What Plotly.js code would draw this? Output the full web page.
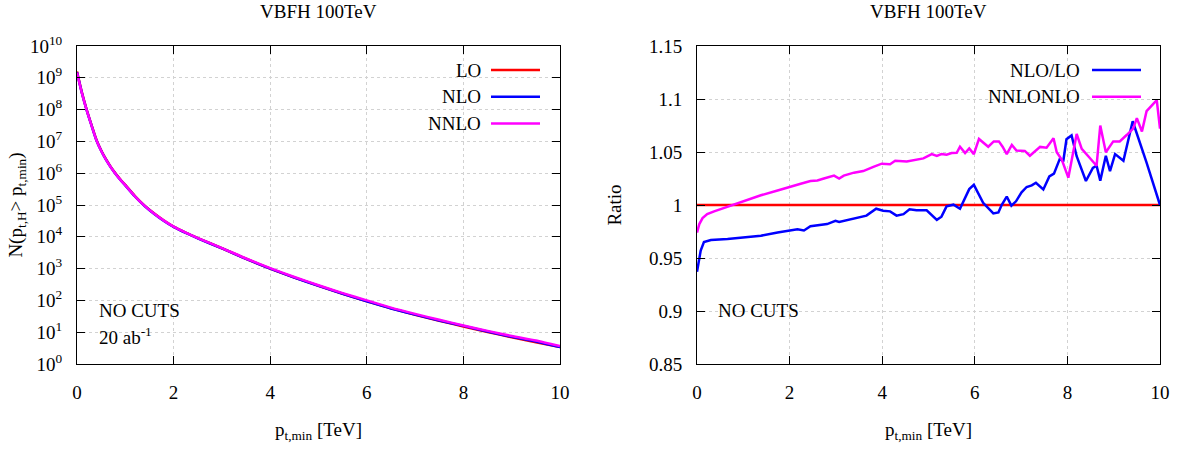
<!DOCTYPE html>
<html>
<head>
<meta charset="utf-8">
<script src="https://cdn.plot.ly/plotly-3.0.1.min.js"></script>
<style>html,body{margin:0;padding:0;background:#fff;}#chart{width:1184px;height:450px;}</style>
</head>
<body>
<div id="chart"></div>
<script>
// ---- data: cumulative event counts N(pt,H > pt,min), 20 ab^-1 ----
const ptMin = [0,0.1,0.2,0.3,0.4,0.5,0.6,0.7,0.8,0.9,1.0,1.2,1.4,1.6,1.8,2.0,2.25,2.5,3.0,3.5,4.0,4.5,5.0,5.5,6.0,6.5,7.0,7.5,8.0,8.5,9.0,9.5,10];
const nLO   = [1.58e9,3.55e8,1.0e8,3.31e7,1.15e7,5.25e6,2.75e6,1.58e6,9.77e5,6.31e5,4.27e5,1.91e5,9.55e4,5.37e4,3.24e4,2.09e4,1.35e4,9.12e3,4.37e3,2.04e3,1.0e3,525,288,162,93.3,56.2,35.5,22.9,15.1,10.2,6.92,4.79,3.39];
const nNLO  = [1.48e9,3.40e8,9.67e7,3.2e7,1.11e7,5.08e6,2.66e6,1.53e6,9.46e5,6.11e5,4.14e5,1.85e5,9.27e4,5.22e4,3.15e4,2.04e4,1.32e4,8.93e3,4.3e3,2.01e3,997,522,286,162,94.5,55.8,35.7,23.3,15.8,10.5,7.2,5.1,3.39];
const nNNLO = [1.44e9,3.36e8,9.6e7,3.19e7,1.11e7,5.09e6,2.67e6,1.54e6,9.5e5,6.15e5,4.16e5,1.87e5,9.4e4,5.31e4,3.22e4,2.08e4,1.35e4,9.14e3,4.42e3,2.08e3,1.04e3,544,299,170,100,59.3,37.6,24.6,16.3,11.0,7.6,5.5,3.65];

// ---- data: ratios ----
const loRatioX = [0, 10];
const loRatioY = [1, 1];
const nloLoX = [0,0.08,0.15,0.30,0.66,1.02,1.38,1.74,2.02,2.17,2.31,2.45,2.81,2.99,3.07,3.17,3.30,3.45,3.66,3.87,4.02,4.17,4.31,4.46,4.59,4.74,4.96,5.18,5.28,5.39,5.54,5.68,5.88,5.98,6.18,6.40,6.51,6.58,6.69,6.79,6.89,7.01,7.12,7.23,7.32,7.48,7.61,7.71,7.84,7.91,7.98,8.09,8.20,8.40,8.55,8.63,8.71,8.83,8.92,9.03,9.21,9.41,9.71,10.0];
const nloLoY = [0.937,0.957,0.965,0.967,0.968,0.9695,0.971,0.974,0.9755,0.977,0.976,0.980,0.982,0.985,0.984,0.985,0.9866,0.988,0.990,0.9965,0.9946,0.994,0.990,0.9914,0.996,0.995,0.995,0.986,0.989,0.9987,1.0003,0.9965,1.015,1.019,1.002,0.992,0.993,1.000,1.008,0.9994,1.0035,1.012,1.017,1.0185,1.021,1.0147,1.027,1.0296,1.044,1.041,1.062,1.0656,1.046,1.0226,1.035,1.037,1.023,1.0465,1.032,1.048,1.0417,1.079,1.040,1.0];
const nnloNloX = [0,0.05,0.12,0.22,0.37,0.66,1.02,1.38,1.74,2.02,2.24,2.45,2.60,2.74,2.96,3.07,3.17,3.39,3.59,3.81,3.99,4.17,4.28,4.53,4.74,4.89,5.07,5.18,5.28,5.39,5.50,5.61,5.68,5.79,5.88,5.98,6.09,6.29,6.41,6.52,6.60,6.69,6.80,6.90,7.08,7.19,7.41,7.55,7.70,7.77,7.88,8.02,8.20,8.31,8.47,8.63,8.71,8.83,8.99,9.13,9.28,9.42,9.50,9.61,9.71,9.93,10.0];
const nnloNloY = [0.974,0.982,0.9876,0.9914,0.994,0.9984,1.0035,1.0092,1.0137,1.0169,1.020,1.0226,1.0232,1.025,1.0277,1.025,1.0277,1.0305,1.032,1.036,1.039,1.0385,1.0417,1.041,1.043,1.044,1.048,1.0464,1.048,1.0474,1.049,1.0493,1.055,1.049,1.0534,1.048,1.0623,1.055,1.060,1.060,1.055,1.048,1.0567,1.0513,1.051,1.0465,1.0548,1.054,1.063,1.0497,1.0427,1.0258,1.067,1.053,1.045,1.037,1.075,1.0497,1.060,1.060,1.066,1.072,1.082,1.0694,1.0885,1.099,1.072];

// ---- tick labels ----
const logTickVals = [1,10,100,1e3,1e4,1e5,1e6,1e7,1e8,1e9,1e10];
const logTickText = ['10<sup>0</sup>','10<sup>1</sup>','10<sup>2</sup>','10<sup>3</sup>','10<sup>4</sup>','10<sup>5</sup>','10<sup>6</sup>','10<sup>7</sup>','10<sup>8</sup>','10<sup>9</sup>','10<sup>10</sup>'];
const ratioTickVals = [0.85,0.9,0.95,1,1.05,1.1,1.15];
const ratioTickText = ['0.85','0.9','0.95','1','1.05','1.1','1.15'];
const xTickVals = [0,2,4,6,8,10];

const RED = '#ff0000', BLUE = '#0000ff', MAG = '#ff00ff';
const FONT = 'Liberation Serif';
const FS = 19;
const W = 1184, H = 450;
const px = x => x / W, py = y => 1 - y / H;

const lw = 2.5;
const traces = [
  {x: ptMin, y: nLO, type: 'scatter', mode: 'lines', name: 'LO', line: {color: RED, width: lw, shape: 'spline', smoothing: 0.6}, xaxis: 'x', yaxis: 'y'},
  {x: ptMin, y: nNLO, type: 'scatter', mode: 'lines', name: 'NLO', line: {color: BLUE, width: lw, shape: 'spline', smoothing: 0.6}, xaxis: 'x', yaxis: 'y'},
  {x: ptMin, y: nNNLO, type: 'scatter', mode: 'lines', name: 'NNLO', line: {color: MAG, width: lw, shape: 'spline', smoothing: 0.6}, xaxis: 'x', yaxis: 'y'},
  {x: loRatioX, y: loRatioY, type: 'scatter', mode: 'lines', name: 'LO/LO', line: {color: RED, width: lw}, xaxis: 'x2', yaxis: 'y2'},
  {x: nloLoX, y: nloLoY, type: 'scatter', mode: 'lines', name: 'NLO/LO', line: {color: BLUE, width: lw}, xaxis: 'x2', yaxis: 'y2'},
  {x: nnloNloX, y: nnloNloY, type: 'scatter', mode: 'lines', name: 'NNLONLO', line: {color: MAG, width: lw}, xaxis: 'x2', yaxis: 'y2'}
];

const yDom = [1 - 364 / H, 1 - 46 / H];
const tf = {family: FONT, size: FS, color: '#000'};
const common = {
  showline: true, linecolor: '#000', linewidth: 1, mirror: 'ticks',
  ticks: 'inside', ticklen: 8, tickcolor: '#000', tickwidth: 1,
  showgrid: true, gridcolor: '#d2d2d2', griddash: 'dot', gridwidth: 1,
  zeroline: false, tickfont: tf
};
const xTitle = {text: 'p<sub>t,min</sub> [TeV]', font: tf, standoff: 20};

const layout = {
  width: W, height: H, showlegend: false,
  margin: {l: 0, r: 0, t: 0, b: 0},
  paper_bgcolor: '#fff', plot_bgcolor: '#fff',
  font: tf,
  xaxis: Object.assign({}, common, {domain: [77 / W, 560 / W], anchor: 'y', range: [0, 10], tickvals: xTickVals, ticktext: xTickVals.map(String), ticklabelstandoff: 11, title: xTitle}),
  yaxis: Object.assign({}, common, {domain: yDom, anchor: 'x', type: 'log', range: [0, 10], tickvals: logTickVals, ticktext: logTickText, ticklabelstandoff: 10,
    title: {text: 'N(p<sub>t,H</sub>> p<sub>t,min</sub>)', font: tf, standoff: 2}}),
  xaxis2: Object.assign({}, common, {domain: [697 / W, 1160 / W], anchor: 'y2', range: [0, 10], tickvals: xTickVals, ticktext: xTickVals.map(String), ticklabelstandoff: 11, title: xTitle}),
  yaxis2: Object.assign({}, common, {domain: yDom, anchor: 'x2', range: [0.85, 1.15], tickvals: ratioTickVals, ticktext: ratioTickText, ticklabelstandoff: 10,
    title: {text: 'Ratio', font: tf, standoff: 22}}),
  annotations: [],
  shapes: []
};

function addText(text, x, y, xanchor) {
  layout.annotations.push({text: text, xref: 'paper', yref: 'paper', x: px(x), y: py(y), xanchor: xanchor, yanchor: 'middle', showarrow: false, font: tf});
}
// panel titles
addText('VBFH 100TeV', 318.5, 12, 'center');
addText('VBFH 100TeV', 928.5, 12, 'center');
// panel labels
addText('NO CUTS', 97, 310, 'left');
addText('20 ab<sup>-1</sup>', 97, 336, 'left');
addText('NO CUTS', 716, 310, 'left');

// gnuplot-style key: text right-aligned, sample line to its right
function addKey(label, color, textRight, lineX0, lineX1, yRow) {
  addText(label, textRight, yRow, 'right');
  layout.shapes.push({type: 'line', xref: 'paper', yref: 'paper', x0: px(lineX0), x1: px(lineX1), y0: py(yRow), y1: py(yRow), line: {color: color, width: lw}});
}
const leftKey = [['LO', RED], ['NLO', BLUE], ['NNLO', MAG]];
leftKey.forEach((k, i) => addKey(k[0], k[1], 483, 491, 540, 70 + i * 26.7));
const rightKey = [['NLO/LO', BLUE], ['NNLONLO', MAG]];
rightKey.forEach((k, i) => addKey(k[0], k[1], 1082, 1092, 1141, 70 + i * 26.7));

Plotly.newPlot('chart', traces, layout, {displayModeBar: false});
</script>
</body>
</html>
